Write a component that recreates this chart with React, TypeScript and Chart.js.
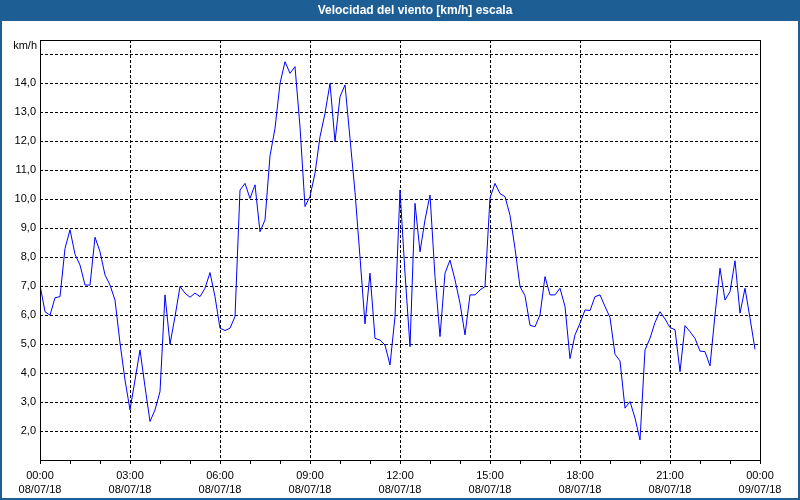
import React, { useEffect, useRef } from 'react';
import { Chart, registerables } from 'chart.js';

Chart.register(...registerables);

const TITLE = 'Velocidad del viento [km/h] escala';
const Y_UNIT = 'km/h';
const SAMPLE_MINUTES = 10;

// wind speed, one reading every 10 minutes from 08/07/18 00:00
const windSpeed = [
  7.04, 6.12, 6.0, 6.6, 6.64, 8.3, 8.95, 8.1, 7.73, 7.04,
  7.04, 8.69, 8.19, 7.39, 7.04, 6.52, 5.04, 3.76, 2.73, 3.76,
  4.8, 3.53, 2.33, 2.73, 3.36, 6.7, 5.0, 5.95, 6.99, 6.76,
  6.62, 6.76, 6.64, 6.93, 7.47, 6.64, 5.55, 5.47, 5.55, 5.95,
  10.32, 10.55, 10.03, 10.5, 8.88, 9.29, 11.5, 12.45, 14.0, 14.75,
  14.35, 14.58, 12.5, 9.75, 10.1, 10.9, 12.16, 12.97, 14.0, 11.99,
  13.54, 13.95, 12.1, 10.25, 8.0, 5.7, 7.45, 5.2, 5.14, 4.97,
  4.28, 5.95, 10.32, 7.45, 4.91, 9.86, 8.19, 9.29, 10.15, 7.33,
  5.26, 7.45, 7.9, 7.22, 6.41, 5.32, 6.7, 6.7, 6.87, 6.99,
  10.05, 10.55, 10.2, 10.09, 9.45, 8.3, 6.99, 6.67, 5.65, 5.6,
  6.01, 7.33, 6.7, 6.7, 6.93, 6.3, 4.5, 5.32, 5.72, 6.18,
  6.16, 6.64, 6.7, 6.3, 5.92, 4.65, 4.42, 2.79, 3.02, 2.45,
  1.69, 4.8, 5.2, 5.75, 6.12, 5.87, 5.57, 5.5, 4.05, 5.64,
  5.43, 5.2, 4.76, 4.74, 4.25, 6.01, 7.62, 6.52, 6.81, 7.88,
  6.07, 6.93, 5.9, 4.82,
];

const xTickMinutes = [
  0, 60, 120, 180, 240, 300, 360, 420, 480, 540, 600, 660, 720,
  780, 840, 900, 960, 1020, 1080, 1140, 1200, 1260, 1320, 1380, 1440,
];
const xLabelMinutes = [0, 180, 360, 540, 720, 900, 1080, 1260, 1440];
const xTimeLabels = ['00:00', '03:00', '06:00', '09:00', '12:00', '15:00', '18:00', '21:00', '00:00'];
const xDateLabels = ['08/07/18', '08/07/18', '08/07/18', '08/07/18', '08/07/18', '08/07/18', '08/07/18', '08/07/18', '09/07/18'];

const yTicks = [2, 3, 4, 5, 6, 7, 8, 9, 10, 11, 12, 13, 14, 15];
const yLabelled = [2, 3, 4, 5, 6, 7, 8, 9, 10, 11, 12, 13, 14];

const FONT = '"Liberation Sans", Arial, sans-serif';
const BAR_BLUE = '#1d5f95';

const framePlugin = {
  id: 'frame',
  beforeDraw(chart: any) {
    const { ctx, width, height } = chart;
    ctx.save();
    ctx.fillStyle = '#ffffff';
    ctx.fillRect(0, 0, width, height);
    ctx.restore();
  },
  afterDraw(chart: any) {
    const { ctx, width, height, chartArea } = chart;
    const { left, top, right, bottom } = chartArea;
    ctx.save();
    // plot frame
    ctx.strokeStyle = '#000';
    ctx.lineWidth = 1;
    ctx.setLineDash([]);
    ctx.strokeRect(Math.round(left) + 0.5, Math.round(top) + 0.5, Math.round(right - left), Math.round(bottom - top));
    // title bar
    ctx.fillStyle = BAR_BLUE;
    ctx.fillRect(0, 0, width, 21);
    ctx.fillStyle = '#ffffff';
    ctx.font = 'bold 12px ' + FONT;
    ctx.textAlign = 'center';
    ctx.textBaseline = 'middle';
    ctx.fillText(TITLE, 415, 10.5);
    // outer border
    ctx.strokeStyle = BAR_BLUE;
    ctx.lineWidth = 2;
    ctx.strokeRect(1, 1, width - 2, height - 2);
    // unit label
    ctx.fillStyle = '#000';
    ctx.font = '11px ' + FONT;
    ctx.textAlign = 'right';
    ctx.fillText(Y_UNIT, left - 3, top + 6);
    ctx.restore();
  },
};

export default function App() {
  const canvasRef = useRef<HTMLCanvasElement | null>(null);

  useEffect(() => {
    if (!canvasRef.current) return;
    const data = windSpeed.map((v, i) => ({ x: i * SAMPLE_MINUTES, y: v }));
    const chart = new Chart(canvasRef.current, {
      type: 'line',
      data: {
        datasets: [
          {
            data,
            borderColor: '#0000ff',
            borderWidth: 1,
            pointRadius: 0,
            tension: 0,
            fill: false,
          },
        ],
      },
      plugins: [framePlugin],
      options: {
        animation: false,
        responsive: false,
        devicePixelRatio: 1,
        layout: { padding: { top: 40, right: 40, left: 0, bottom: 0 } },
        plugins: {
          legend: { display: false },
          tooltip: { enabled: false },
          title: { display: false },
        },
        scales: {
          x: {
            type: 'linear',
            min: 0,
            max: 1440,
            afterBuildTicks: (s: any) => {
              s.ticks = xTickMinutes.map((v) => ({ value: v }));
            },
            afterFit: (s: any) => {
              s.height = 40;
            },
            grid: {
              color: (c: any) => {
                const v = c.tick ? c.tick.value : -1;
                return v > 0 && v < 1440 && v % 180 === 0 ? '#000' : 'rgba(0,0,0,0)';
              },
              lineWidth: 1,
              drawTicks: true,
              tickLength: 4,
              tickColor: '#000',
              tickWidth: 1,
            },
            border: { display: false, dash: [3, 2] },
            ticks: {
              autoSkip: false,
              maxRotation: 0,
              padding: 4,
              color: '#000',
              font: { family: FONT, size: 11, lineHeight: 1.36 },
              callback: (value: any) => {
                const idx = xLabelMinutes.indexOf(Number(value));
                return idx >= 0 ? [xTimeLabels[idx], xDateLabels[idx]] : '';
              },
            },
          },
          y: {
            type: 'linear',
            min: 1,
            max: 15.5,
            afterBuildTicks: (s: any) => {
              s.ticks = yTicks.map((v) => ({ value: v }));
            },
            afterFit: (s: any) => {
              s.width = 40;
            },
            grid: {
              color: '#000',
              lineWidth: 1,
              drawTicks: false,
            },
            border: { display: false, dash: [3, 2] },
            ticks: {
              padding: 4,
              color: '#000',
              font: { family: FONT, size: 11 },
              callback: (value: any) => {
                const v = Number(value);
                return yLabelled.includes(v) ? v.toFixed(1).replace('.', ',') : '';
              },
            },
          },
        },
      },
    });
    return () => chart.destroy();
  }, []);

  return (
    <div style={{ position: 'fixed', left: 0, top: 0, width: 800, height: 500, background: '#fff' }}>
      <canvas ref={canvasRef} width={800} height={500} style={{ display: 'block' }} />
    </div>
  );
}
